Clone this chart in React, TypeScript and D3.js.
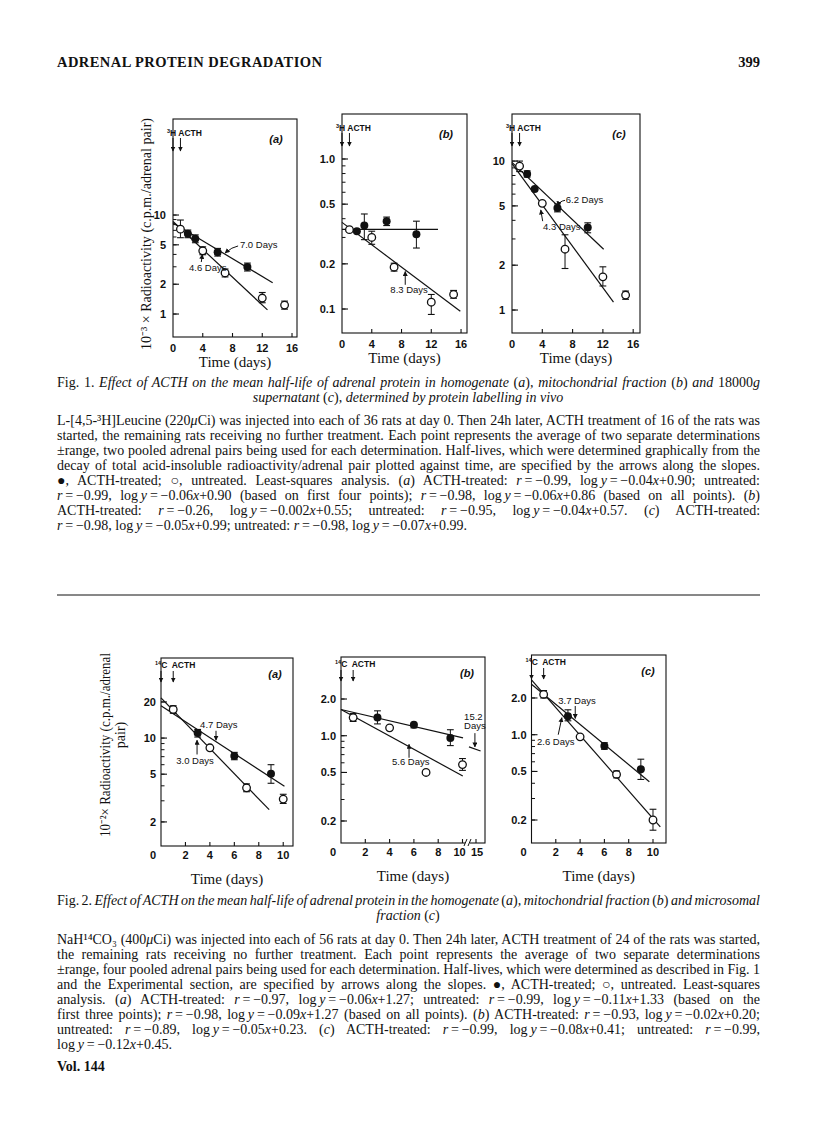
import React, { useLayoutEffect, useRef } from 'react';
import * as d3 from 'd3';

const SERIF = "'Liberation Serif','Times New Roman',Times,serif";
const SANS = "'Liberation Sans',Arial,Helvetica,sans-serif";

// Each point: [day, mean, upper end of range, lower end of range]
const fig1aTreated = [[2, 6.45, 7.05, 5.9], [3, 5.75, 6.3, 5.25], [6, 4.2, 4.6, 3.85], [10, 2.98, 3.27, 2.72]];
const fig1aUntreated = [[1, 7.2, 8.9, 5.9], [4, 4.35, 4.77, 3.97], [7, 2.6, 2.85, 2.37], [12, 1.45, 1.65, 1.3], [15, 1.23, 1.35, 1.12]];
const fig1aFits = [[[0, 8.3], [13.4, 2.07]], [[0, 8.6], [12.7, 1.1]]];

const fig1bTreated = [[2, 0.33, 0.34, 0.32], [3, 0.36, 0.43, 0.29], [6, 0.385, 0.41, 0.36], [10, 0.315, 0.385, 0.255]];
const fig1bUntreated = [[1, 0.338, 0.345, 0.33], [4, 0.3, 0.33, 0.27], [7, 0.19, 0.202, 0.179], [12, 0.111, 0.125, 0.092], [15, 0.125, 0.133, 0.118]];
const fig1bFits = [[[0, 0.34], [12.9, 0.34]], [[0, 0.378], [15.9, 0.0965]]];

const fig1cTreated = [[2, 8.2, 8.6, 7.8], [3, 6.5, 6.7, 6.3], [6, 4.85, 5.16, 4.56], [10, 3.58, 3.85, 3.3]];
const fig1cUntreated = [[1, 9.25, 10.0, 8.5], [4, 5.2, 5.35, 5.05], [7, 2.56, 3.2, 1.9], [12, 1.67, 1.95, 1.45], [15, 1.26, 1.34, 1.18]];
const fig1cFits = [[[0, 9.8], [12.1, 2.56]], [[0, 9.6], [13.4, 1.13]]];

const fig2aTreated = [[3, 11.0, 11.8, 10.2], [6, 7.1, 7.6, 6.6], [9, 5.05, 6.0, 4.2]];
const fig2aUntreated = [[1, 17.3, 18.6, 16.1], [4, 8.3, 8.5, 8.1], [7, 3.85, 4.15, 3.57], [10, 3.1, 3.4, 2.85]];
const fig2aFits = [[[0, 18.6], [10.1, 3.96]], [[0, 21.6], [8.85, 2.53]]];

const fig2bTreated = [[3, 1.41, 1.6, 1.25], [6, 1.23, 1.3, 1.16], [9, 0.96, 1.12, 0.83]];
const fig2bUntreated = [[1, 1.41, 1.52, 1.31], [4, 1.16, 1.18, 1.14], [7, 0.5, 0.52, 0.48], [10, 0.58, 0.65, 0.52]];
const fig2bFits = [[[0, 1.64], [10.2, 0.96]], [[0, 1.64], [10.1, 0.468]], [[12.4, 0.81], [16.7, 0.75]]];

const fig2cTreated = [[3, 1.42, 1.6, 1.3], [6, 0.81, 0.86, 0.76], [9, 0.52, 0.63, 0.43]];
const fig2cUntreated = [[1, 2.14, 2.3, 2.0], [4, 0.96, 0.98, 0.94], [7, 0.473, 0.505, 0.443], [10, 0.2, 0.245, 0.165]];
const fig2cFits = [[[0, 2.59], [9.7, 0.412]], [[0, 2.81], [10.6, 0.176]]];

// Tick values and labels
const fig1XTicks = [0, 4, 8, 12, 16];
const fig1XLabels = ['0', '4', '8', '12', '16'];
const fig2XTicks = [0, 2, 4, 6, 8, 10];
const fig2XLabels = ['0', '2', '4', '6', '8', '10'];
const fig2bXTicks = [0, 2, 4, 6, 8, 10, 15];
const fig2bXLabels = ['0', '2', '4', '6', '8', '10', '15'];
const yTicks1to10 = [1, 2, 5, 10];
const yLabels1to10 = ['1', '2', '5', '10'];
const yTicksTenth = [0.1, 0.2, 0.5, 1];
const yLabelsTenth = ['0.1', '0.2', '0.5', '1.0'];
const yTicks2to20 = [2, 5, 10, 20];
const yLabels2to20 = ['2', '5', '10', '20'];
const yTicksFifth = [0.2, 0.5, 1, 2];
const yLabelsFifth = ['0.2', '0.5', '1.0', '2.0'];

// Half-life annotations: label lines, label anchor (day, value), arrow from/to (day, value)
const fig1aNotes = [
  { lines: ['7.0 Days'], at: [9.0, 4.6], from: [8.75, 4.87], to: [7.0, 4.13], curve: true },
  { lines: ['4.6 Days'], at: [2.15, 2.7], from: [3.8, 3.35], to: [3.95, 4.0], curve: false },
];
const fig1bNotes = [
  { lines: ['8.3 Days'], at: [6.5, 0.128], from: [8.5, 0.145], to: [8.5, 0.178], curve: false },
];
const fig1cNotes = [
  { lines: ['6.2 Days'], at: [7.1, 5.2], from: [7.0, 5.45], to: [6.1, 5.0], curve: true },
  { lines: ['4.3 Days'], at: [4.1, 3.44], from: [4.05, 3.95], to: [3.8, 4.7], curve: false },
];
const fig2aNotes = [
  { lines: ['4.7 Days'], at: [3.2, 12.1], from: [4.5, 11.5], to: [4.5, 9.6], curve: false },
  { lines: ['3.0 Days'], at: [1.25, 6.1], from: [2.95, 7.3], to: [2.95, 9.6], curve: false },
];
const fig2bNotes = [
  { lines: ['15.2', 'Days'], at: [10.6, 1.35], from: [14.6, 1.05], to: [14.6, 0.81], curve: false },
  { lines: ['5.6 Days'], at: [4.2, 0.58], from: [5.6, 0.66], to: [5.6, 0.85], curve: false },
];
const fig2cNotes = [
  { lines: ['3.7 Days'], at: [2.2, 1.79], from: [3.6, 1.72], to: [3.6, 1.36], curve: false },
  { lines: ['2.6 Days'], at: [0.45, 0.83], from: [2.2, 1.0], to: [2.5, 1.38], curve: false },
];

// Text
const headerTitle = 'ADRENAL PROTEIN DEGRADATION';
const pageNumber = '399';
const fig1Caption = [
  'Fig. 1. *Effect of ACTH on the mean half-life of adrenal protein in homogenate* (*a*)*, mitochondrial fraction* (*b*) *and* 18000*g*',
  '*supernatant* (*c*)*, determined by protein labelling in vivo*',
];
const fig1Body = [
  'L-[4,5-³H]Leucine (220*μ*Ci) was injected into each of 36 rats at day 0. Then 24h later, ACTH treatment of 16 of the rats was',
  'started, the remaining rats receiving no further treatment. Each point represents the average of two separate determinations',
  '±range, two pooled adrenal pairs being used for each determination. Half-lives, which were determined graphically from the',
  'decay of total acid-insoluble radioactivity/adrenal pair plotted against time, are specified by the arrows along the slopes.',
  '●, ACTH-treated; ○, untreated. Least-squares analysis. (*a*) ACTH-treated: *r*\u2009=\u2009−0.99, log\u2009*y*\u2009=\u2009−0.04*x*+0.90; untreated:',
  '*r*\u2009=\u2009−0.99, log\u2009*y*\u2009=\u2009−0.06*x*+0.90 (based on first four points); *r*\u2009=\u2009−0.98, log\u2009*y*\u2009=\u2009−0.06*x*+0.86 (based on all points). (*b*)',
  'ACTH-treated: *r*\u2009=\u2009−0.26, log\u2009*y*\u2009=\u2009−0.002*x*+0.55; untreated: *r*\u2009=\u2009−0.95, log\u2009*y*\u2009=\u2009−0.04*x*+0.57. (*c*) ACTH-treated:',
  '*r*\u2009=\u2009−0.98, log\u2009*y*\u2009=\u2009−0.05*x*+0.99; untreated: *r*\u2009=\u2009−0.98, log\u2009*y*\u2009=\u2009−0.07*x*+0.99.',
];
const fig2Caption = [
  'Fig. 2. *Effect of ACTH on the mean half-life of adrenal protein in the homogenate* (*a*)*, mitochondrial fraction* (*b*) *and microsomal*',
  '*fraction* (*c*)',
];
const fig2Body = [
  'NaH¹⁴CO₃ (400*μ*Ci) was injected into each of 56 rats at day 0. Then 24h later, ACTH treatment of 24 of the rats was started,',
  'the remaining rats receiving no further treatment. Each point represents the average of two separate determinations',
  '±range, four pooled adrenal pairs being used for each determination. Half-lives, which were determined as described in Fig. 1',
  'and the Experimental section, are specified by arrows along the slopes. ●, ACTH-treated; ○, untreated. Least-squares',
  'analysis. (*a*) ACTH-treated: *r*\u2009=\u2009−0.97, log\u2009*y*\u2009=\u2009−0.06*x*+1.27; untreated: *r*\u2009=\u2009−0.99, log\u2009*y*\u2009=\u2009−0.11*x*+1.33 (based on the',
  'first three points); *r*\u2009=\u2009−0.98, log\u2009*y*\u2009=\u2009−0.09*x*+1.27 (based on all points). (*b*) ACTH-treated: *r*\u2009=\u2009−0.93, log\u2009*y*\u2009=\u2009−0.02*x*+0.20;',
  'untreated: *r*\u2009=\u2009−0.89, log\u2009*y*\u2009=\u2009−0.05*x*+0.23. (*c*) ACTH-treated: *r*\u2009=\u2009−0.99, log\u2009*y*\u2009=\u2009−0.08*x*+0.41; untreated: *r*\u2009=\u2009−0.99,',
  'log\u2009*y*\u2009=\u2009−0.12*x*+0.45.',
];
const fig1YLabel = '10⁻³ × Radioactivity (c.p.m./adrenal pair)';
const fig2YLabel = ['10⁻²× Radioactivity (c.p.m./adrenal', 'pair)'];
const xAxisTitle = 'Time (days)';
const volume = 'Vol. 144';

type Note = { lines: string[]; at: number[]; from: number[]; to: number[]; curve: boolean };
type PanelCfg = {
  fig: number;
  left: number; right: number; top: number; bottom: number;
  xDomain: number[]; xRange: number[]; yDomain: number[];
  xTicks: number[]; xLabels: string[]; xLabelDx?: number[];
  yTicks: number[]; yLabels: string[];
  letter: string; isoSup: string; isoRest: string;
  treated: number[][]; untreated: number[][]; fits: number[][][];
  notes: Note[]; axisBreak?: boolean;
};

const panels: PanelCfg[] = [
  { fig: 1, left: 173, right: 297, top: 119, bottom: 337, xDomain: [0, 16.67], xRange: [173, 297], yDomain: [0.586, 93.3],
    xTicks: fig1XTicks, xLabels: fig1XLabels, yTicks: yTicks1to10, yLabels: yLabels1to10, letter: '(a)', isoSup: '3', isoRest: 'H ACTH',
    treated: fig1aTreated, untreated: fig1aUntreated, fits: fig1aFits, notes: fig1aNotes },
  { fig: 1, left: 342, right: 467, top: 114, bottom: 333, xDomain: [0, 16.8], xRange: [342, 467], yDomain: [0.0692, 1.995],
    xTicks: fig1XTicks, xLabels: fig1XLabels, yTicks: yTicksTenth, yLabels: yLabelsTenth, letter: '(b)', isoSup: '3', isoRest: 'H ACTH',
    treated: fig1bTreated, untreated: fig1bUntreated, fits: fig1bFits, notes: fig1bNotes },
  { fig: 1, left: 512, right: 640, top: 114, bottom: 333, xDomain: [0, 16.9], xRange: [512, 640], yDomain: [0.701, 20.7],
    xTicks: fig1XTicks, xLabels: fig1XLabels, yTicks: yTicks1to10, yLabels: yLabels1to10, letter: '(c)', isoSup: '3', isoRest: 'H ACTH',
    treated: fig1cTreated, untreated: fig1cUntreated, fits: fig1cFits, notes: fig1cNotes },
  { fig: 2, left: 161, right: 293, top: 658, bottom: 846, xDomain: [0, 10.8], xRange: [161, 293], yDomain: [1.26, 46.5],
    xTicks: fig2XTicks, xLabels: fig2XLabels, yTicks: yTicks2to20, yLabels: yLabels2to20, letter: '(a)', isoSup: '14', isoRest: 'C  ACTH',
    treated: fig2aTreated, untreated: fig2aUntreated, fits: fig2aFits, notes: fig2aNotes },
  { fig: 2, left: 341, right: 485, top: 657, bottom: 843, xDomain: [0, 10, 15], xRange: [341, 462.5, 476], yDomain: [0.132, 4.42],
    xTicks: fig2bXTicks, xLabels: fig2bXLabels, xLabelDx: [0, 0, 0, 0, 0, -3, 1], yTicks: yTicksFifth, yLabels: yLabelsFifth,
    letter: '(b)', isoSup: '14', isoRest: 'C  ACTH', treated: fig2bTreated, untreated: fig2bUntreated, fits: fig2bFits, notes: fig2bNotes, axisBreak: true },
  { fig: 2, left: 531.5, right: 666, top: 655, bottom: 843, xDomain: [0, 11.07], xRange: [531.5, 666], yDomain: [0.1296, 4.5],
    xTicks: fig2XTicks, xLabels: fig2XLabels, yTicks: yTicksFifth, yLabels: yLabelsFifth, letter: '(c)', isoSup: '14', isoRest: 'C  ACTH',
    treated: fig2cTreated, untreated: fig2cUntreated, fits: fig2cFits, notes: fig2cNotes },
];

function minorTicks(lo: number, hi: number): number[] {
  const out: number[] = [];
  for (let k = Math.floor(Math.log10(lo)) - 1; k <= Math.ceil(Math.log10(hi)); k++) {
    for (let m = 1; m <= 9; m++) {
      const v = +(m * Math.pow(10, k)).toPrecision(6);
      if (v >= lo * 0.999 && v <= hi * 1.001) out.push(v);
    }
  }
  return out;
}

const BODY_SIZE = 14;

function Rich({ x, y, text, width, anchor, size = BODY_SIZE, italicBase = false }: any) {
  const ref = useRef<SVGTextElement>(null);
  useLayoutEffect(() => {
    const el = ref.current;
    if (!el || !width) return;
    el.style.wordSpacing = '0px';
    el.removeAttribute('textLength');
    const natural = el.getComputedTextLength();
    const spaces = (text.match(/ /g) || []).length;
    const ws = spaces ? (width - natural) / spaces : 0;
    if (ws >= -1.5) {
      el.style.wordSpacing = ws + 'px';
    } else {
      el.style.wordSpacing = '-1.5px';
      el.setAttribute('textLength', String(width));
      el.setAttribute('lengthAdjust', 'spacingAndGlyphs');
    }
  }, [text, width]);
  const parts = text.split('*');
  return (
    <text ref={ref} x={x} y={y} fontFamily={SERIF} fontSize={size} textAnchor={anchor || 'start'} fill="#111">
      {parts.map((p: string, i: number) => (
        <tspan key={i} fontStyle={(i % 2 === 1) !== italicBase ? 'italic' : 'normal'}>{p}</tspan>
      ))}
    </text>
  );
}

function Panel({ c }: { c: PanelCfg }) {
  const x = d3.scaleLinear().domain(c.xDomain).range(c.xRange);
  const y = d3.scaleLog().domain(c.yDomain).range([c.bottom, c.top]);
  const line = d3.line<number[]>().x(d => x(d[0])).y(d => y(d[1]));
  const minors = minorTicks(c.yTicks[0], c.yTicks[c.yTicks.length - 1]);
  const isF1 = c.fig === 1;
  const tickLabelY = isF1 ? c.bottom + 15 : c.bottom + 13;
  const titleY = isF1 ? c.bottom + 30 : c.bottom + 38;
  const isoY = isF1 ? c.top + 17 : c.top + 10;
  const arrowTop = isF1 ? c.top + 19 : c.top + 13;
  const arrowBot = isF1 ? c.top + 32 : c.top + 24;
  const cap = 3.4;
  const all = [...c.treated, ...c.untreated];
  const capVisible = (p: number[], k: number) => Math.abs(y(p[k]) - y(p[1])) >= 3;
  return (
    <g>
      <rect x={c.left} y={c.top} width={c.right - c.left} height={c.bottom - c.top} fill="none" stroke="#111" strokeWidth={1.1} />
      {minors.map((v, i) => (
        <line key={'m' + i} x1={c.left} x2={c.left + 3.5} y1={y(v)} y2={y(v)} stroke="#111" strokeWidth={1} />
      ))}
      {c.yTicks.map((v, i) => (
        <g key={'y' + i}>
          <line x1={c.left} x2={c.left + 6} y1={y(v)} y2={y(v)} stroke="#111" strokeWidth={1.1} />
          <text x={c.left - (isF1 ? 7 : 5)} y={y(v)} dy="0.36em" textAnchor="end" fontFamily={SANS} fontWeight="bold" fontSize={11} fill="#111">{c.yLabels[i]}</text>
        </g>
      ))}
      {c.xTicks.map((v, i) => (
        <g key={'x' + i}>
          {x(v) > c.left + 1 && <line x1={x(v)} x2={x(v)} y1={c.bottom} y2={c.bottom - 4} stroke="#111" strokeWidth={1.1} />}
          <text x={x(v) + (!isF1 && v === 0 ? -8 : 0) + (c.xLabelDx ? c.xLabelDx[i] : 0)} y={tickLabelY} textAnchor="middle"
            fontFamily={SANS} fontWeight="bold" fontSize={11} fill="#111">{c.xLabels[i]}</text>
        </g>
      ))}
      {c.axisBreak && (
        <g stroke="#111" strokeWidth={1}>
          <rect x={465} y={c.bottom - 2} width={5} height={4} fill="white" stroke="none" />
          <line x1={464} y1={c.bottom + 3} x2={467} y2={c.bottom - 4} />
          <line x1={468} y1={c.bottom + 3} x2={471} y2={c.bottom - 4} />
        </g>
      )}
      <text x={(c.left + c.right) / 2} y={titleY} textAnchor="middle" fontFamily={SERIF} fontSize={15} fill="#111">{xAxisTitle}</text>
      <text x={x(0) - 6} y={isoY} fontFamily={SANS} fontWeight="bold" fontSize={8.5} fill="#111">
        <tspan fontSize={5.5} dy={-3}>{c.isoSup}</tspan>
        <tspan dy={3} style={{ whiteSpace: 'pre' }}>{c.isoRest}</tspan>
      </text>
      {[0, 1].map(d => (
        <line key={'ar' + d} x1={x(d)} x2={x(d)} y1={arrowTop} y2={arrowBot} stroke="#111" strokeWidth={1} markerEnd="url(#ah)" />
      ))}
      <text x={c.right - (isF1 ? 21 : 18)} y={c.top + (isF1 ? 24 : 20)} textAnchor="middle" fontFamily={SANS} fontStyle="italic" fontWeight="bold" fontSize={11} fill="#111">{c.letter}</text>
      {c.fits.map((f, i) => (
        <path key={'f' + i} d={line(f) || ''} fill="none" stroke="#111" strokeWidth={1.2} />
      ))}
      {all.map((p, i) => (
        <line key={'e' + i} x1={x(p[0])} x2={x(p[0])} y1={y(p[2])} y2={y(p[3])} stroke="#111" strokeWidth={1} />
      ))}
      {c.untreated.map((p, i) => (
        <circle key={'u' + i} cx={x(p[0])} cy={y(p[1])} r={3.8} fill="white" stroke="#111" strokeWidth={1.3} />
      ))}
      {c.treated.map((p, i) => (
        <circle key={'t' + i} cx={x(p[0])} cy={y(p[1])} r={4} fill="#111" />
      ))}
      {all.map((p, i) => (
        <g key={'c' + i} stroke="#111" strokeWidth={1.1}>
          {capVisible(p, 2) && <line x1={x(p[0]) - cap} x2={x(p[0]) + cap} y1={y(p[2])} y2={y(p[2])} />}
          {capVisible(p, 3) && <line x1={x(p[0]) - cap} x2={x(p[0]) + cap} y1={y(p[3])} y2={y(p[3])} />}
        </g>
      ))}
      {c.notes.map((n, i) => {
        const x0 = x(n.from[0]), y0 = y(n.from[1]), x1 = x(n.to[0]), y1 = y(n.to[1]);
        const d = n.curve
          ? `M${x0},${y0} Q${x0 - 6},${y0 + 1} ${x1},${y1}`
          : `M${x0},${y0} L${x1},${y1}`;
        return (
          <g key={'n' + i}>
            {n.lines.map((t, j) => (
              <text key={j} x={x(n.at[0])} y={y(n.at[1]) + j * 9.5} fontFamily={SANS} fontSize={9.5} fill="#111">{t}</text>
            ))}
            <path d={d} fill="none" stroke="#111" strokeWidth={1} markerEnd="url(#ah)" />
          </g>
        );
      })}
    </g>
  );
}

export default function App() {
  const L = 57, R = 760, W = R - L;
  return (
    <svg width={816} height={1136} style={{ position: 'absolute', left: 0, top: 0, background: 'white' }}>
      <defs>
        <marker id="ah" viewBox="0 0 10 10" refX={9} refY={5} markerWidth={5} markerHeight={5} orient="auto">
          <path d="M0,0 L10,5 L0,10 z" fill="#111" />
        </marker>
      </defs>
      <rect x={0} y={0} width={816} height={1136} fill="white" />
      <text x={L} y={67} fontFamily={SERIF} fontWeight="bold" fontSize={14.5} textLength={265} lengthAdjust="spacing" fill="#111">{headerTitle}</text>
      <text x={R} y={67} textAnchor="end" fontFamily={SERIF} fontWeight="bold" fontSize={14.5} fill="#111">{pageNumber}</text>

      <text transform={`translate(151,234) rotate(-90)`} textAnchor="middle" fontFamily={SERIF} fontSize={14} textLength={232} lengthAdjust="spacingAndGlyphs" fill="#111">{fig1YLabel}</text>
      <text transform={`translate(110,745) rotate(-90)`} textAnchor="middle" fontFamily={SERIF} fontSize={14} textLength={184} lengthAdjust="spacingAndGlyphs" fill="#111">{fig2YLabel[0]}</text>
      <text transform={`translate(125,735) rotate(-90)`} textAnchor="middle" fontFamily={SERIF} fontSize={14} fill="#111">{fig2YLabel[1]}</text>

      {panels.map((p, i) => <Panel key={i} c={p} />)}

      <Rich x={L} y={387} text={fig1Caption[0]} width={W} />
      <Rich x={408} y={402} text={fig1Caption[1]} anchor="middle" />
      {fig1Body.map((t, i) => (
        <Rich key={'b1' + i} x={L} y={425 + i * 15} text={t} width={i < fig1Body.length - 1 ? W : undefined} />
      ))}

      <line x1={L} x2={R} y1={595} y2={595} stroke="#111" strokeWidth={1} />

      <Rich x={L} y={905} text={fig2Caption[0]} width={W} />
      <Rich x={408} y={920} text={fig2Caption[1]} anchor="middle" />
      {fig2Body.map((t, i) => (
        <Rich key={'b2' + i} x={L} y={944 + i * 15} text={t} width={i < fig2Body.length - 1 ? W : undefined} />
      ))}
      <text x={L} y={1071} fontFamily={SERIF} fontWeight="bold" fontSize={14} fill="#111">{volume}</text>
    </svg>
  );
}
